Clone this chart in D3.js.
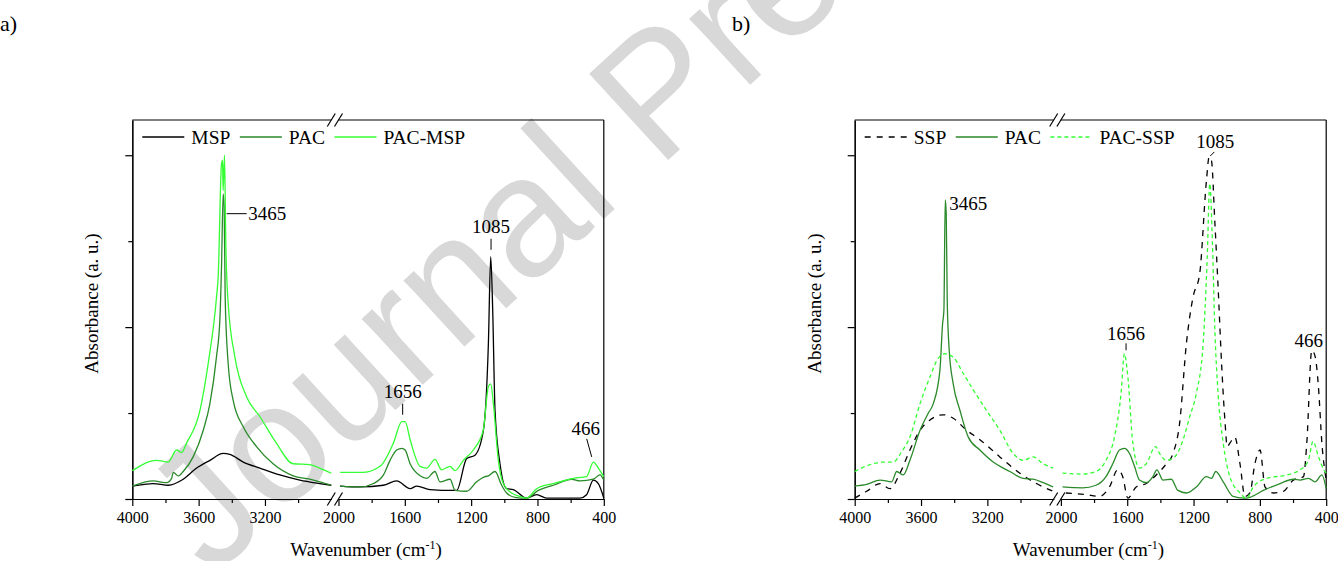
<!DOCTYPE html>
<html>
<head>
<meta charset="utf-8">
<script src="https://cdn.jsdelivr.net/npm/d3@7"></script>
<style>
  body { margin: 0; background: #fff; }
  svg { display: block; font-family: "Liberation Serif", "Times New Roman", serif; }
  .axis path, .axis line { stroke: #000; stroke-width: 1.2; }
  .axis text { font-family: "Liberation Serif", serif; font-size: 16px; fill: #000; }
  .frame, .break-mark, .leader { stroke: #000; stroke-width: 1.2; fill: none; }
  .leader { stroke-width: 1; }
  .spectrum { fill: none; stroke-width: 1.3; }
  .legend-text { font-size: 19.5px; fill: #000; }
  .peak-label, .axis-title { font-size: 19px; fill: #000; }
  .panel-label { font-size: 22px; fill: #000; }
  .watermark { font-family: "Liberation Sans", Arial, sans-serif; font-size: 170px; fill: #d8d8d8; }
</style>
</head>
<body>
<svg id="chart" width="1338" height="561"></svg>
<script>
// wavenumber (cm-1), absorbance (a. u.)
const namesA = ['MSP', 'PAC', 'PAC-MSP'];
const namesB = ['SSP', 'PAC', 'PAC-SSP'];

const majorTicksLeft = [4000, 3600, 3200];
const minorTicksLeft = [3800, 3400, 3000];
const majorTicksRight = [2000, 1600, 1200, 800, 400];
const minorTicksRight = [1800, 1400, 1000, 600];
const yMajorTicks = [0, 2, 4];
const yMinorTicks = [1, 3];

const mspA = [
  [4000, 0.15], [3873, 0.18], [3783, 0.16], [3693, 0.23], [3612, 0.36], [3532, 0.45],
  [3452, 0.53], [3412, 0.52], [3331, 0.43], [3231, 0.36], [3110, 0.28], [2990, 0.22],
  [2870, 0.18], [2800, 0.16],
  [1990, 0.15], [1869, 0.14], [1729, 0.16], [1649, 0.21], [1568, 0.12], [1528, 0.15],
  [1448, 0.11], [1307, 0.10], [1287, 0.10], [1227, 0.47], [1177, 0.51], [1126, 0.80],
  [1096, 1.81], [1082, 2.82], [1070, 2.20], [1056, 1.03], [1026, 0.41], [986, 0.12],
  [946, 0.11], [866, 0.01], [805, 0.05], [745, 0.01], [544, 0.01], [504, 0.05],
  [463, 0.22], [433, 0.18], [400, 0.01]
];
const pacA = [
  [4000, 0.15], [3873, 0.21], [3793, 0.19], [3763, 0.24], [3753, 0.31], [3723, 0.27],
  [3693, 0.32], [3633, 0.49], [3572, 0.80], [3532, 1.11], [3492, 1.66], [3472, 2.08],
  [3462, 2.70], [3452, 3.55], [3446, 3.40], [3440, 2.35], [3422, 1.58], [3392, 1.15],
  [3331, 0.84], [3251, 0.61], [3151, 0.41], [3030, 0.27], [2930, 0.23], [2870, 0.20],
  [2800, 0.16],
  [1990, 0.15], [1869, 0.14], [1789, 0.18], [1729, 0.28], [1689, 0.45], [1649, 0.57],
  [1618, 0.59], [1598, 0.57], [1568, 0.41], [1508, 0.27], [1468, 0.24], [1418, 0.32],
  [1388, 0.20], [1327, 0.23], [1297, 0.10], [1227, 0.09], [1167, 0.20], [1116, 0.26],
  [1096, 0.27], [1056, 0.32], [1016, 0.16], [986, 0.07], [936, 0.02], [866, 0.01],
  [795, 0.10], [705, 0.16], [594, 0.23], [544, 0.21], [463, 0.23], [423, 0.28], [400, 0.22]
];
const pacMspA = [
  [4000, 0.33], [3853, 0.45], [3783, 0.43], [3733, 0.57], [3703, 0.54], [3673, 0.65],
  [3592, 1.03], [3542, 1.58], [3492, 2.35], [3482, 2.59], [3462, 3.90], [3456, 3.94],
  [3452, 3.59], [3444, 4.00], [3436, 2.97], [3422, 2.28], [3382, 1.66], [3311, 1.19],
  [3231, 0.96], [3131, 0.65], [3030, 0.41], [2930, 0.40], [2870, 0.36], [2800, 0.30],
  [1990, 0.31], [1849, 0.31], [1749, 0.38], [1669, 0.65], [1618, 0.90], [1598, 0.90],
  [1568, 0.69], [1508, 0.38], [1468, 0.36], [1418, 0.46], [1378, 0.34], [1327, 0.38],
  [1297, 0.33], [1247, 0.45], [1187, 0.57], [1127, 0.80], [1096, 1.31], [1082, 1.34],
  [1066, 1.11], [1036, 0.45], [1006, 0.18], [956, 0.07], [906, 0.03], [866, 0.01],
  [805, 0.12], [705, 0.18], [584, 0.24], [504, 0.26], [463, 0.43], [433, 0.36], [400, 0.26]
];

const sspB = [
  [4000, 0.01], [3928, 0.09], [3847, 0.18], [3787, 0.12], [3727, 0.30], [3667, 0.57],
  [3606, 0.80], [3546, 0.92], [3466, 0.98], [3406, 0.94], [3325, 0.80], [3245, 0.69],
  [3125, 0.49], [3004, 0.30], [2904, 0.18], [2803, 0.09],
  [1970, 0.07], [1849, 0.05], [1768, 0.03], [1707, 0.14], [1657, 0.34], [1627, 0.26],
  [1596, 0.01], [1546, 0.14], [1485, 0.18], [1425, 0.28], [1364, 0.41], [1324, 0.53],
  [1284, 0.88], [1243, 1.81], [1203, 2.35], [1163, 2.62], [1122, 3.71], [1106, 3.98],
  [1092, 3.94], [1072, 3.24], [1052, 2.47], [1031, 1.58], [1011, 0.92], [997, 0.61],
  [981, 0.65], [951, 0.72], [920, 0.41], [890, 0.03], [860, 0.07], [830, 0.41],
  [799, 0.57], [769, 0.14], [719, 0.07], [658, 0.09], [598, 0.22], [537, 0.26],
  [517, 0.65], [487, 1.73], [467, 1.66], [447, 1.31], [426, 0.65], [400, 0.22]
];
const pacB = [
  [4000, 0.15], [3928, 0.17], [3847, 0.22], [3777, 0.20], [3747, 0.32], [3707, 0.28],
  [3667, 0.45], [3606, 0.80], [3556, 1.00], [3526, 1.11], [3486, 1.50], [3470, 2.04],
  [3462, 2.20], [3454, 3.48], [3448, 3.32], [3442, 2.31], [3430, 1.73], [3406, 1.34],
  [3365, 1.03], [3315, 0.72], [3245, 0.57], [3165, 0.43], [3064, 0.32], [2984, 0.24],
  [2924, 0.23], [2863, 0.19], [2803, 0.14],
  [1990, 0.14], [1869, 0.13], [1788, 0.16], [1728, 0.26], [1687, 0.41], [1647, 0.57],
  [1617, 0.59], [1586, 0.53], [1556, 0.38], [1526, 0.22], [1485, 0.19], [1445, 0.26],
  [1421, 0.34], [1384, 0.22], [1334, 0.23], [1294, 0.10], [1243, 0.07], [1183, 0.14],
  [1122, 0.26], [1092, 0.24], [1066, 0.32], [1021, 0.20], [961, 0.03], [900, 0.01],
  [860, 0.02], [779, 0.10], [678, 0.18], [598, 0.23], [557, 0.22], [507, 0.24],
  [467, 0.20], [426, 0.28], [400, 0.12]
];
const pacSspB = [
  [4000, 0.32], [3908, 0.40], [3827, 0.43], [3767, 0.43], [3717, 0.55], [3667, 0.72],
  [3606, 1.11], [3546, 1.42], [3496, 1.64], [3456, 1.69], [3406, 1.65], [3345, 1.46],
  [3285, 1.27], [3205, 1.03], [3125, 0.80], [3044, 0.53], [2984, 0.45], [2924, 0.49],
  [2863, 0.41], [2803, 0.36],
  [1990, 0.30], [1869, 0.29], [1788, 0.32], [1728, 0.45], [1677, 0.72], [1637, 1.23],
  [1617, 1.69], [1596, 1.42], [1566, 0.65], [1526, 0.36], [1485, 0.41], [1429, 0.61],
  [1405, 0.53], [1364, 0.45], [1314, 0.49], [1263, 0.69], [1223, 0.96], [1183, 1.23],
  [1142, 1.81], [1118, 2.78], [1102, 3.67], [1086, 2.97], [1072, 2.00], [1052, 1.23],
  [1021, 0.65], [981, 0.26], [920, 0.07], [880, 0.01], [840, 0.14], [759, 0.24],
  [638, 0.28], [557, 0.34], [507, 0.45], [480, 0.67], [446, 0.49], [415, 0.34], [400, 0.30]
];

// peak labels: wavenumber / absorbance of the point the label refers to
const peaksA = [
  {label: '3465', wn: 3431, abs: 3.32, kind: 'side'},
  {label: '1085', wn: 1080, abs: 2.90, kind: 'top'},
  {label: '1656', wn: 1613, abs: 0.98, kind: 'top'},
  {label: '466', wn: 473, abs: 0.49, kind: 'slant'}
];
const peaksB = [
  {label: '3465', wn: 3454, abs: 3.48, kind: 'tag'},
  {label: '1085', wn: 1105, abs: 3.98, kind: 'tip'},
  {label: '1656', wn: 1607, abs: 1.73, kind: 'topShort'},
  {label: '466', wn: 487, abs: 1.73, kind: 'near'}
];

const lineStyles = {
  'MSP': {color: '#000000', dash: null},
  'SSP': {color: '#000000', dash: '6,6'},
  'PAC': {color: '#2a8a2a', dash: null},
  'PAC-MSP': {color: '#33ff33', dash: null},
  'PAC-SSP': {color: '#33ff33', dash: '4,3'}
};

class SpectrumPanel {

  constructor(_config, _series, _peaks) {
    this.config = {
      parentElement: _config.parentElement,
      left: _config.left,
      top: _config.top || 120,
      width: _config.width || 471.5,
      height: _config.height || 379,
      gap: _config.gap || 7.2,
      yMax: _config.yMax || 4.41,
      panelLabel: _config.panelLabel,
      panelLabelX: _config.panelLabelX
    };
    this.series = _series;
    this.peaks = _peaks;
    this.initVis();
  }

  initVis() {
    let vis = this;
    const w = vis.config.width, h = vis.config.height, gap = vis.config.gap;

    // two linear pieces either side of the axis break (2800 -> 2000)
    vis.leftW = (w - gap) * 1200 / 2800;
    vis.xLeft = d3.scaleLinear().domain([4000, 2800]).range([0, vis.leftW]);
    vis.xRight = d3.scaleLinear().domain([2000, 400]).range([vis.leftW + gap, w]);
    vis.xPos = (wn) => wn > 2400 ? vis.xLeft(wn) : vis.xRight(wn);

    vis.yScale = d3.scaleLinear().domain([0, vis.config.yMax]).range([h, 0]);

    vis.svg = d3.select(vis.config.parentElement);
    vis.chart = vis.svg.append('g')
      .attr('transform', `translate(${vis.config.left},${vis.config.top})`);

    // bottom axis, one piece per segment
    [[vis.xLeft, majorTicksLeft, minorTicksLeft], [vis.xRight, majorTicksRight, minorTicksRight]]
      .forEach(([scale, major, minor]) => {
        vis.chart.append('g')
          .attr('class', 'axis')
          .attr('transform', `translate(0,${h})`)
          .call(d3.axisBottom(scale).tickValues(minor).tickSize(4).tickSizeOuter(0).tickFormat(''));
        vis.chart.append('g')
          .attr('class', 'axis')
          .attr('transform', `translate(0,${h})`)
          .call(d3.axisBottom(scale).tickValues(major).tickSize(7).tickSizeOuter(0)
            .tickPadding(6).tickFormat(d3.format('d')));
      });

    // left axis, no labels
    vis.chart.append('g')
      .attr('class', 'axis')
      .call(d3.axisLeft(vis.yScale).tickValues(yMinorTicks).tickSize(4).tickSizeOuter(0).tickFormat(''));
    vis.chart.append('g')
      .attr('class', 'axis')
      .call(d3.axisLeft(vis.yScale).tickValues(yMajorTicks).tickSize(7).tickSizeOuter(0).tickFormat(''));

    // top and right of the frame
    vis.chart.append('line').attr('class', 'frame')
      .attr('x1', 0).attr('x2', vis.leftW).attr('y1', 0).attr('y2', 0);
    vis.chart.append('line').attr('class', 'frame')
      .attr('x1', vis.leftW + gap).attr('x2', w).attr('y1', 0).attr('y2', 0);
    vis.chart.append('line').attr('class', 'frame')
      .attr('x1', w).attr('x2', w).attr('y1', 0).attr('y2', h);

    // break marks //
    [0, h].forEach(y => {
      [vis.leftW, vis.leftW + gap].forEach(x => {
        vis.chart.append('line').attr('class', 'break-mark')
          .attr('x1', x - 4).attr('y1', y + 6.5)
          .attr('x2', x + 4).attr('y2', y - 6.5);
      });
    });

    // axis titles
    vis.chart.append('text')
      .attr('class', 'axis-title')
      .attr('transform', `translate(-34,${h / 2 - 6}) rotate(-90)`)
      .attr('text-anchor', 'middle')
      .text('Absorbance (a. u.)');

    const xt = vis.chart.append('text')
      .attr('class', 'axis-title')
      .attr('x', w / 2 - 2)
      .attr('y', h + 57)
      .attr('text-anchor', 'middle');
    xt.append('tspan').text('Wavenumber (cm');
    xt.append('tspan').attr('dy', -7).style('font-size', '12px').text('-1');
    xt.append('tspan').attr('dy', 7).text(')');

    vis.svg.append('text')
      .attr('class', 'panel-label')
      .attr('x', vis.config.panelLabelX)
      .attr('y', 31)
      .text(vis.config.panelLabel);

    vis.renderVis();
  }

  renderVis() {
    let vis = this;

    const line = d3.line()
      .x(d => vis.xPos(d[0]))
      .y(d => vis.yScale(d[1]))
      .curve(d3.curveMonotoneX);

    vis.series.forEach(s => {
      const st = lineStyles[s.name];
      const parts = [s.values.filter(d => d[0] >= 2800), s.values.filter(d => d[0] <= 2000)];
      parts.forEach(p => {
        vis.chart.append('path')
          .attr('class', 'spectrum')
          .attr('d', line(p))
          .attr('stroke', st.color)
          .attr('stroke-dasharray', st.dash);
      });
    });

    // legend
    const legend = vis.chart.append('g').attr('transform', 'translate(10,17)');
    let lx = 0;
    vis.series.forEach(s => {
      const st = lineStyles[s.name];
      legend.append('line')
        .attr('class', 'spectrum')
        .attr('x1', lx).attr('x2', lx + 42)
        .attr('y1', 0).attr('y2', 0)
        .attr('stroke', st.color)
        .attr('stroke-dasharray', st.dash);
      const t = legend.append('text')
        .attr('class', 'legend-text')
        .attr('x', lx + 49)
        .attr('y', 6.5)
        .text(s.name);
      lx += 49 + t.node().getComputedTextLength() + 9.5;
    });

    // peak labels
    vis.peaks.forEach(d => {
      const px = vis.xPos(d.wn), py = vis.yScale(d.abs);
      let seg = null, tx = px, ty = py, anchor = 'middle';
      if (d.kind === 'side') {
        seg = [px, py, px + 20, py]; tx = px + 21.5; ty = py + 6; anchor = 'start';
      } else if (d.kind === 'top') {
        seg = [px, py, px, py - 11]; ty = py - 17;
      } else if (d.kind === 'topShort') {
        seg = [px, py, px, py - 7]; ty = py - 10;
      } else if (d.kind === 'slant') {
        seg = [px, py, px - 5, py - 18]; tx = px - 6; ty = py - 22;
      } else if (d.kind === 'tag') {
        tx = px + 4; ty = py + 10; anchor = 'start';
      } else if (d.kind === 'tip') {
        seg = [px + 1, py - 1, px + 5, py - 5]; tx = px + 6; ty = py - 8.5;
      } else {
        tx = px - 3; ty = py - 3;
      }
      if (seg) {
        vis.chart.append('line').attr('class', 'leader')
          .attr('x1', seg[0]).attr('y1', seg[1]).attr('x2', seg[2]).attr('y2', seg[3]);
      }
      vis.chart.append('text')
        .attr('class', 'peak-label')
        .attr('x', tx).attr('y', ty)
        .attr('text-anchor', anchor)
        .text(d.label);
    });
  }
}

const svg = d3.select('#chart');

// pre-proof watermark behind everything
svg.append('text')
  .attr('class', 'watermark')
  .attr('transform', 'translate(212,578) rotate(-42.5)')
  .text('Journal Pre-proof');

new SpectrumPanel(
  {parentElement: '#chart', left: 132.3, panelLabel: 'a)', panelLabelX: 0},
  [
    {name: namesA[0], values: mspA},
    {name: namesA[1], values: pacA},
    {name: namesA[2], values: pacMspA}
  ],
  peaksA
);

new SpectrumPanel(
  {parentElement: '#chart', left: 854.7, panelLabel: 'b)', panelLabelX: 732},
  [
    {name: namesB[0], values: sspB},
    {name: namesB[1], values: pacB},
    {name: namesB[2], values: pacSspB}
  ],
  peaksB
);
</script>
</body>
</html>
